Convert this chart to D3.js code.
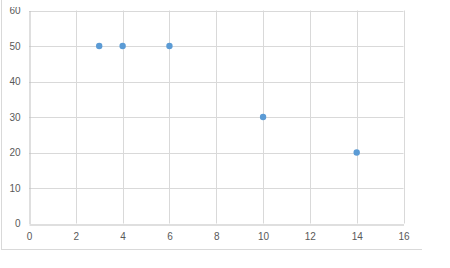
<!DOCTYPE html>
<html><head><meta charset="utf-8">
<script src="https://cdn.jsdelivr.net/npm/d3@7"></script>
<style>body{margin:0;background:#fff;}svg{display:block;}</style>
</head><body>
<script>
const xValues = [3, 4, 6, 10, 14];
const yValues = [50, 50, 50, 30, 20];
const xTicks = [0, 2, 4, 6, 8, 10, 12, 14, 16];
const yTicks = [0, 10, 20, 30, 40, 50, 60];

const W = 450, H = 268;
const svg = d3.select("body").append("svg").attr("width", W).attr("height", H);

svg.append("defs").append("clipPath").attr("id", "labclip")
  .append("rect").attr("x", 0).attr("y", 7).attr("width", W).attr("height", H);

// outer chart border (left and bottom visible)
svg.append("line").attr("x1", 1.5).attr("x2", 1.5).attr("y1", 0).attr("y2", 249.5).attr("stroke", "#d9d9d9");
svg.append("line").attr("x1", 1).attr("x2", 422).attr("y1", 249.5).attr("y2", 249.5).attr("stroke", "#d9d9d9");

const x = d3.scaleLinear().domain([0, 16]).range([29, 403.5]);
const y = d3.scaleLinear().domain([0, 60]).range([223.5, 10.5]);

const g = svg.append("g");
g.selectAll(".vg").data(xTicks.filter(d => d > 0)).enter().append("line")
  .attr("x1", d => Math.round(x(d)) + 0.5).attr("x2", d => Math.round(x(d)) + 0.5)
  .attr("y1", y(60)).attr("y2", y(0)).attr("stroke", "#d9d9d9");
g.selectAll(".hg").data(yTicks.filter(d => d > 0)).enter().append("line")
  .attr("x1", x(0)).attr("x2", x(16))
  .attr("y1", d => Math.round(y(d)) + 0.5).attr("y2", d => Math.round(y(d)) + 0.5).attr("stroke", "#d9d9d9");

const xAxis = d3.axisBottom(x).tickValues(xTicks).tickSize(0).tickPadding(8);
const yAxis = d3.axisLeft(y).tickValues(yTicks).tickSize(0).tickPadding(9);
const gx = svg.append("g").attr("transform", `translate(0,${Math.round(y(0))+0.5})`).call(xAxis);
const gyWrap = svg.append("g").attr("clip-path", "url(#labclip)");
const gy = gyWrap.append("g").attr("transform", `translate(${Math.round(x(0))+0.5},0)`).call(yAxis);
gx.select(".domain").attr("stroke", "#bfbfbf");
gy.select(".domain").attr("stroke", "#bfbfbf");
[gx, gy].forEach(a => a.selectAll("text").attr("fill", "#595959")
  .style("font-family", "'Liberation Sans', Arial, sans-serif").style("font-size", "10px"));

svg.append("g").selectAll("circle").data(xValues.map((d, i) => [d, yValues[i]])).enter()
  .append("circle").attr("cx", d => x(d[0])).attr("cy", d => y(d[1])).attr("r", 3.2)
  .attr("fill", "#5b9bd5");
</script>
</body></html>
